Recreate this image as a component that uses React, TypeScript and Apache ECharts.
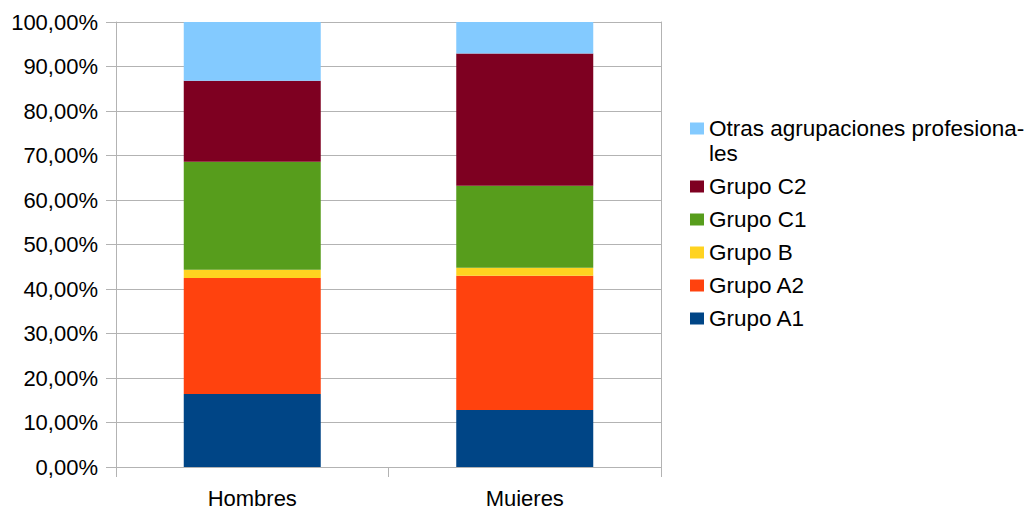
import React, { useEffect, useRef } from "react";
import * as echarts from "echarts";

const categories = ["Hombres", "Mujeres"];
const seriesNames = [
  "Grupo A1",
  "Grupo A2",
  "Grupo B",
  "Grupo C1",
  "Grupo C2",
  "Otras agrupaciones profesionales",
];
const grupoA1 = [16.4, 12.8];
const grupoA2 = [26.1, 30.2];
const grupoB = [1.8, 1.8];
const grupoC1 = [24.3, 18.4];
const grupoC2 = [18.2, 29.7];
const otras = [13.2, 7.1];
const seriesValues = [grupoA1, grupoA2, grupoB, grupoC1, grupoC2, otras];
const colors = ["#004586", "#ff420e", "#ffd320", "#579d1c", "#7e0021", "#83caff"];
const legendLabels: Record<string, string> = {
  "Otras agrupaciones profesionales": "\nOtras agrupaciones profesiona-\nles",
};

export default function App() {
  const ref = useRef<HTMLDivElement>(null);
  useEffect(() => {
    document.body.style.margin = "0";
    if (!ref.current) return;
    const chart = echarts.init(ref.current, undefined, { renderer: "svg" });
    const font = "'Liberation Sans', Arial, sans-serif";
    const axisColor = "#b3b3b3";
    chart.setOption({
      animation: false,
      textStyle: { fontFamily: font },
      grid: { left: 116, right: 368, top: 22, bottom: 39, outerBoundsMode: "none", containLabel: false },
      legend: {
        orient: "vertical",
        left: 690,
        top: 91,
        padding: 0,
        itemWidth: 14,
        itemHeight: 12,
        itemGap: 8,
        icon: "rect",
        textStyle: {
          fontFamily: font,
          fontSize: 22.5,
          color: "#000",
          lineHeight: 25,
        },
        formatter: (name: string) => legendLabels[name] || name,
        data: seriesNames.slice().reverse(),
      },
      xAxis: {
        type: "category",
        data: categories,
        axisLine: { lineStyle: { color: axisColor, width: 1 } },
        axisTick: { show: true, length: 10, lineStyle: { color: axisColor } },
        axisLabel: { fontFamily: font, fontSize: 22, color: "#000", margin: 20 },
        splitLine: { show: false },
      },
      yAxis: [
        {
          type: "value",
          min: 0,
          max: 100,
          interval: 10,
          axisLine: { show: true, lineStyle: { color: axisColor } },
          axisTick: { show: true, length: 10, lineStyle: { color: axisColor } },
          axisLabel: {
            fontFamily: font,
            fontSize: 22,
            color: "#000",
            margin: 18,
            formatter: (v: number) => v.toFixed(2).replace(".", ",") + "%",
          },
          splitLine: { show: true, lineStyle: { color: axisColor, width: 1 } },
        },
        {
          type: "value",
          position: "right",
          min: 0,
          max: 100,
          interval: 10,
          axisLine: { show: true, lineStyle: { color: axisColor } },
          axisTick: { show: false },
          axisLabel: { show: false },
          splitLine: { show: false },
        },
      ],
      series: seriesNames.map((name, i) => ({
        name,
        type: "bar",
        stack: "total",
        barWidth: 137,
        yAxisIndex: 0,
        itemStyle: { color: colors[i] },
        data: seriesValues[i],
      })),
    });
    return () => chart.dispose();
  }, []);
  return <div ref={ref} style={{ width: 1029, height: 506 }} />;
}
